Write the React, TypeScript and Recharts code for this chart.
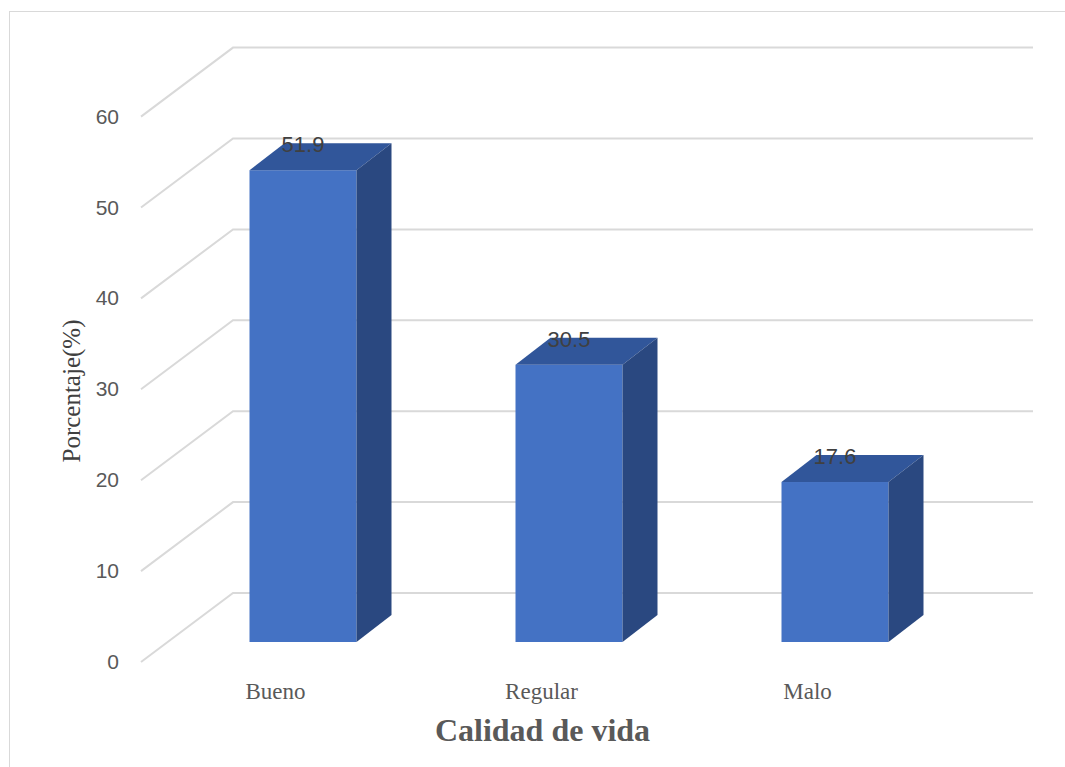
import React from 'react'
import { BarChart, Bar, XAxis, YAxis, CartesianGrid, LabelList } from 'recharts'

const categories = ['Bueno', 'Regular', 'Malo']
const percentages = [51.9, 30.5, 17.6]
const yTicks = [0, 10, 20, 30, 40, 50, 60]

const data = categories.map((name, i) => ({ name, value: percentages[i] }))

// depth offsets of the fake 3D look
const DX = 35
const DY = 27

const Box3D = (props: any) => {
    const { x, y, width, height } = props
    if (!height) return null
    return (
        <g>
            <rect x={x} y={y} width={width} height={height} fill="#4472C4" />
            <polygon
                points={`${x},${y} ${x + DX},${y - DY} ${x + width + DX},${y - DY} ${x + width},${y}`}
                fill="#31569A"
            />
            <polygon
                points={`${x + width},${y} ${x + width + DX},${y - DY} ${x + width + DX},${y + height - DY} ${x + width},${y + height}`}
                fill="#2A4880"
            />
        </g>
    )
}

const GridLine = (props: any) => {
    const { x1, x2, y1 } = props
    return (
        <path
            key={props.key}
            d={`M${x1 - 28.5},${y1 + 20} L${x1 + 63.5},${y1 - 49} L${x2 + 65.5},${y1 - 49}`}
            stroke="#D9D9D9"
            strokeWidth={2}
            fill="none"
        />
    )
}

const YTick = (props: any) => {
    const { y, payload } = props
    return (
        <text x={119} y={y + 27} textAnchor="end" fill="#595959"
            fontFamily="Liberation Sans, Arial, sans-serif" fontSize={21}>
            {payload.value}
        </text>
    )
}

const XTick = (props: any) => {
    const { x, payload } = props
    return (
        <text x={x - 27} y={699} textAnchor="middle" fill="#595959"
            fontFamily="Liberation Serif, Times New Roman, serif" fontSize={23}>
            {payload.value}
        </text>
    )
}

const TopLabel = (props: any) => {
    const { x, y, width, value } = props
    return (
        <text x={x + width / 2} y={y - 18} textAnchor="middle" fill="#404040"
            fontFamily="Liberation Sans, Arial, sans-serif" fontSize={22}>
            {value}
        </text>
    )
}

const App = () => {
    return (
        <div style={{ position: 'absolute', left: 0, top: 0, width: 1065, height: 767, overflow: 'hidden', background: '#fff' }}>
            <div style={{ position: 'absolute', left: 9, top: 11, width: 1100, height: 800, borderLeft: '1.5px solid #D9D9D9', borderTop: '1.5px solid #D9D9D9' }} />
            <BarChart
                width={1065}
                height={767}
                data={data}
                margin={{ top: 96.6, right: 97.5, left: 109.5, bottom: 95 }}
                style={{ position: 'absolute', left: 0, top: 0 }}
            >
                <CartesianGrid vertical={false} horizontal={GridLine} />
                <XAxis
                    dataKey="name"
                    axisLine={false}
                    tickLine={false}
                    height={30}
                    tick={XTick}
                />
                <YAxis
                    domain={[0, 60]}
                    ticks={yTicks}
                    width={60}
                    axisLine={false}
                    tickLine={false}
                    tick={YTick}
                />
                <Bar dataKey="value" barSize={107} shape={Box3D} isAnimationActive={false}>
                    <LabelList dataKey="value" content={TopLabel} />
                </Bar>
                <text x={80} y={391} transform="rotate(-90 80 391)" textAnchor="middle" fill="#404040"
                    fontFamily="Liberation Serif, Times New Roman, serif" fontSize={25}>
                    Porcentaje(%)
                </text>
                <text x={542.5} y={741} textAnchor="middle" fill="#595959" fontWeight="bold"
                    fontFamily="Liberation Serif, Times New Roman, serif" fontSize={32}>
                    Calidad de vida
                </text>
            </BarChart>
        </div>
    )
}

export default App
